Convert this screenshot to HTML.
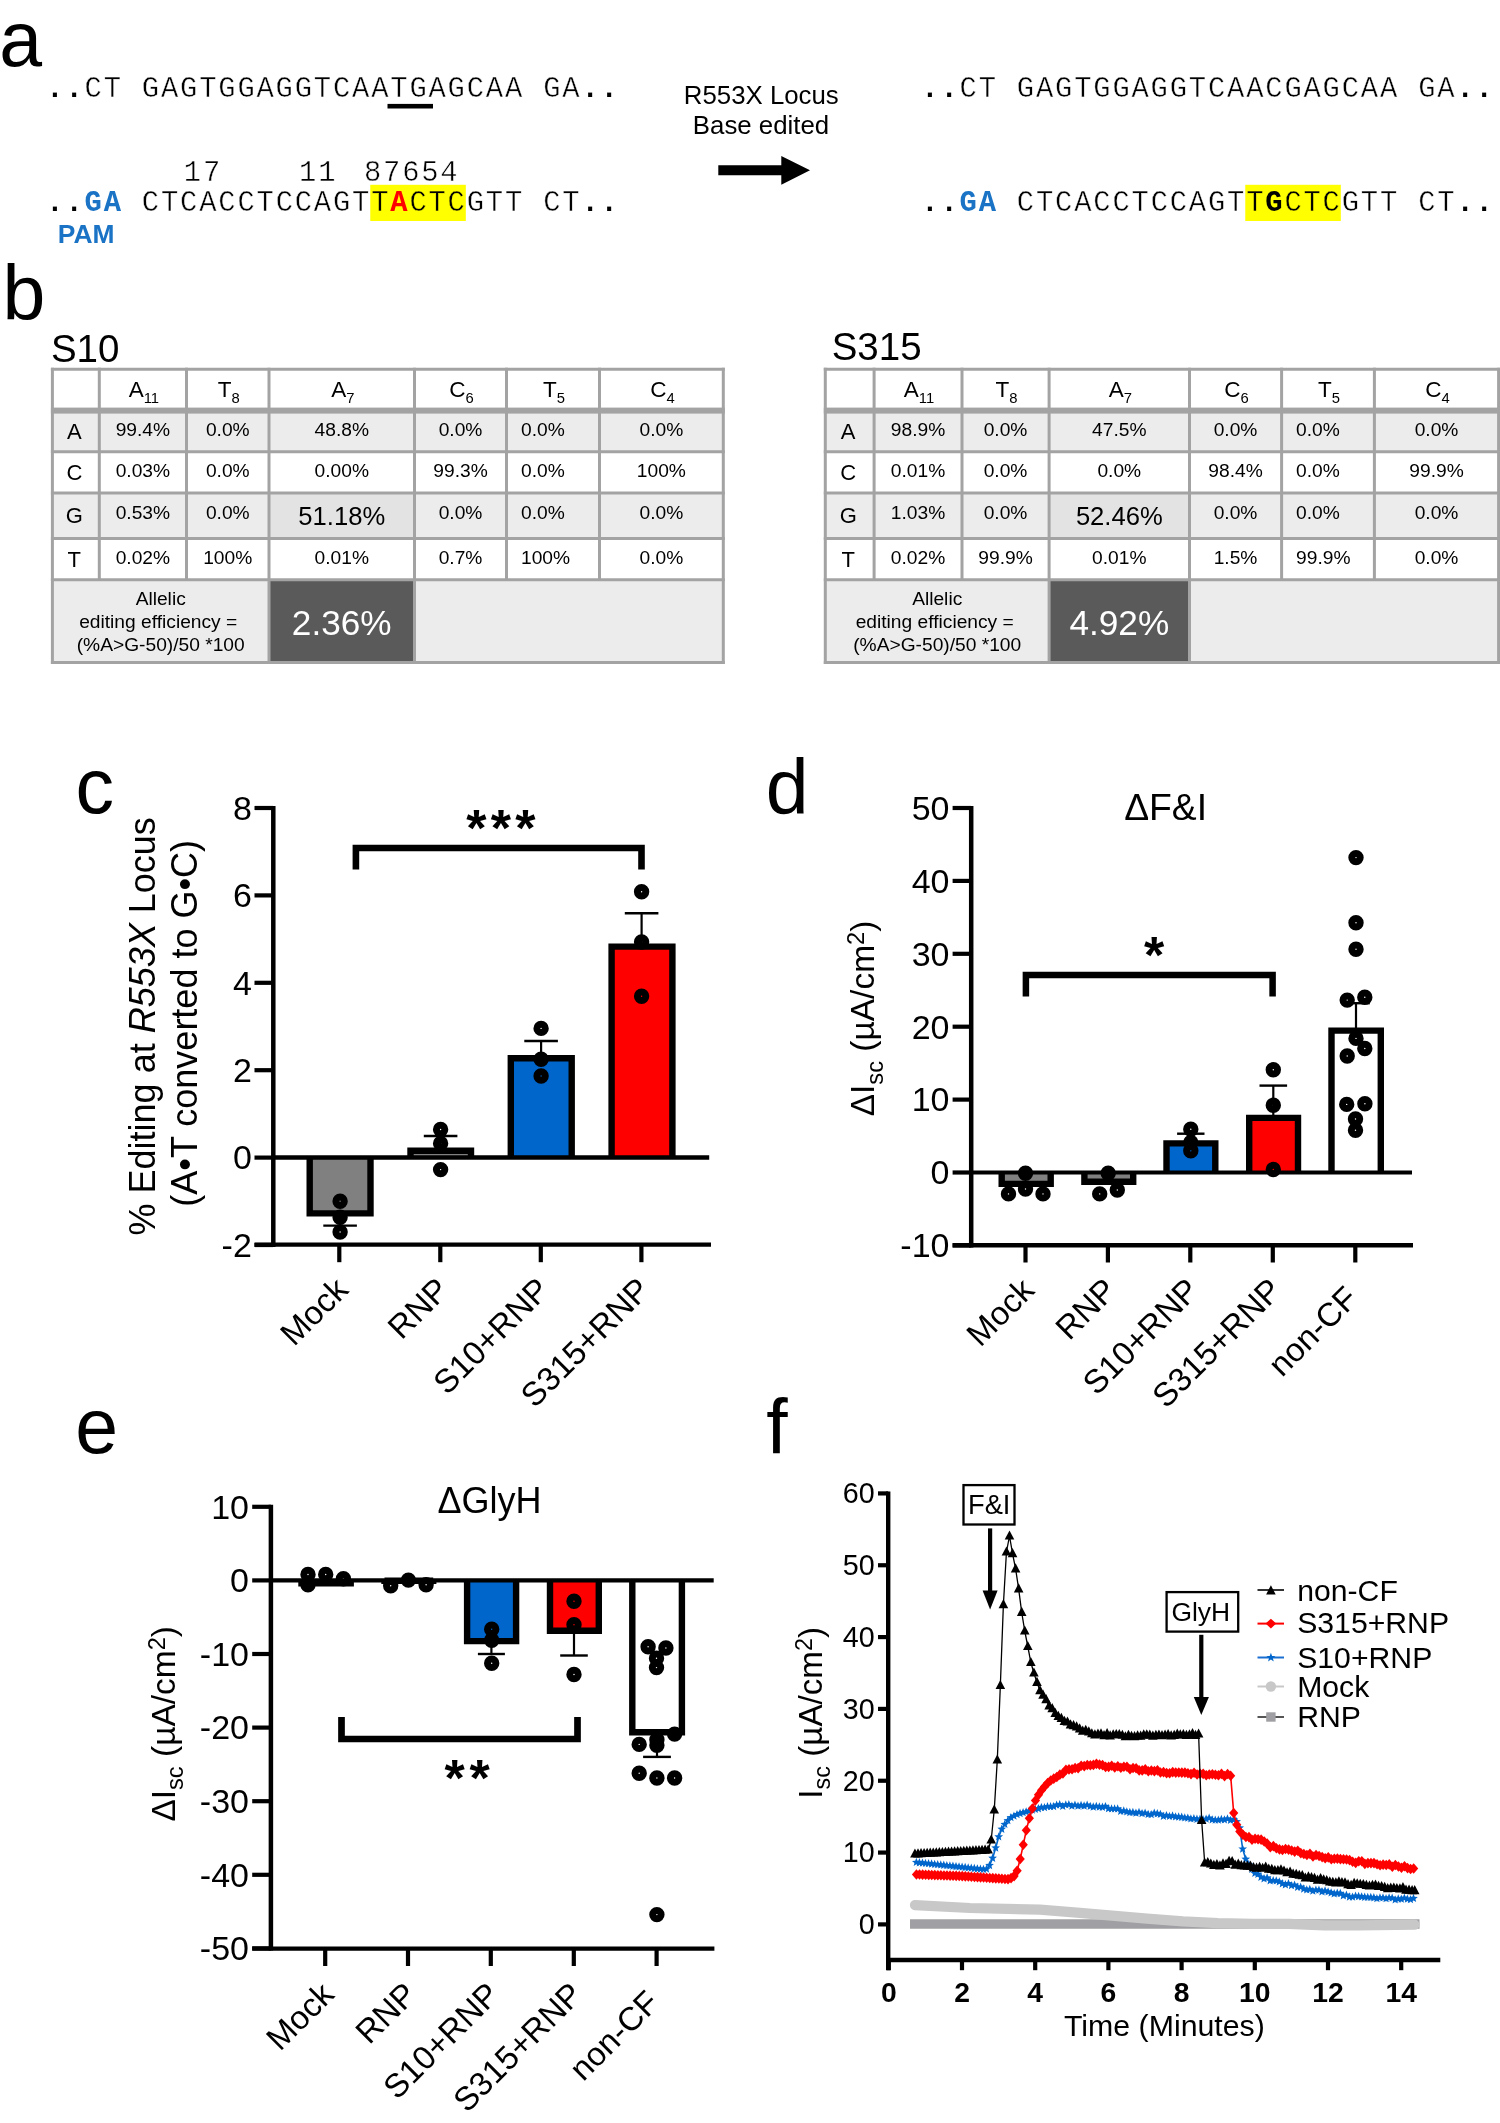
<!DOCTYPE html><html><head><meta charset="utf-8"><title>Figure</title><style>
html,body{margin:0;padding:0;background:#fff;}
svg{display:block;will-change:transform;}
text{font-family:"Liberation Sans",sans-serif;}
.m{font-family:"Liberation Mono",monospace;}
</style></head><body>
<svg width="1500" height="2123" viewBox="0 0 1500 2123">
<rect width="1500" height="2123" fill="#fff"/>
<text x="-0.8" y="65.9" font-size="77">a</text>
<text x="2.4" y="320.3" font-size="77">b</text>
<text x="75.6" y="813" font-size="77">c</text>
<text x="765.8" y="814" font-size="77">d</text>
<text x="75.3" y="1453.3" font-size="77">e</text>
<text x="766.3" y="1453.5" font-size="77">f</text>
<style>.m{letter-spacing:1.83px;stroke:#fff;stroke-width:0.45px}.m .b{stroke:none}.m .y{stroke:#ffff00}</style>
<rect x="370.27" y="184.8" width="95.55" height="36.2" fill="#ffff00"/>
<rect x="1245.27" y="184.8" width="95.55" height="36.2" fill="#ffff00"/>
<text y="97" font-size="28.8" class="m" xml:space="preserve"><tspan x="46.31" class="b" font-weight="bold">..</tspan><tspan x="84.53">CT GAGTGGAGGTCAATGAGCAA GA</tspan><tspan x="581.39" class="b" font-weight="bold">..</tspan></text>
<rect x="387.5" y="103.9" width="45.5" height="4.6" fill="#000"/>
<text x="183.81" y="181" font-size="28.8" class="m" xml:space="preserve">17</text>
<text x="299.12" y="181" font-size="28.8" class="m" xml:space="preserve">11</text>
<text x="363.92" y="181" font-size="28.8" class="m" xml:space="preserve">87654</text>
<text y="210.6" font-size="28.8" class="m" xml:space="preserve"><tspan x="46.31" class="b" font-weight="bold">..</tspan><tspan x="84.53" class="b" fill="#1a73c5" font-weight="bold">GA</tspan><tspan x="141.86">CTCACCTCCAGT</tspan><tspan x="371.19" class="y">T</tspan><tspan x="390.3" class="b" fill="#ff0000" font-weight="bold">A</tspan><tspan x="409.4" class="y">CTC</tspan><tspan x="466.73">GTT CT</tspan><tspan x="581.39" class="b" font-weight="bold">..</tspan></text>
<text x="57.84" y="243" font-size="26.4" font-weight="bold" fill="#1a73c5">PAM</text>
<text y="97" font-size="28.8" class="m" xml:space="preserve"><tspan x="921.31" class="b" font-weight="bold">..</tspan><tspan x="959.53">CT GAGTGGAGGTCAACGAGCAA GA</tspan><tspan x="1456.39" class="b" font-weight="bold">..</tspan></text>
<text y="211" font-size="28.8" class="m" xml:space="preserve"><tspan x="921.31" class="b" font-weight="bold">..</tspan><tspan x="959.53" class="b" fill="#1a73c5" font-weight="bold">GA</tspan><tspan x="1016.86">CTCACCTCCAGT</tspan><tspan x="1246.18" class="y">T</tspan><tspan x="1265.3" class="b" font-weight="bold">G</tspan><tspan x="1284.4" class="y">CTC</tspan><tspan x="1341.73">GTT CT</tspan><tspan x="1456.39" class="b" font-weight="bold">..</tspan></text>
<text x="761.3" y="104" font-size="25.8" text-anchor="middle">R553X Locus</text>
<text x="761" y="134.3" font-size="25.8" text-anchor="middle">Base edited</text>
<path d="M718.3 165.3H781.3V156L810 170.3L781.3 184.7V175.3H718.3Z" fill="#000"/>
<rect x="52.4" y="369.2" width="670.9" height="293.4" fill="#fff"/>
<rect x="52.4" y="410" width="670.9" height="41.8" fill="#ececec"/>
<rect x="52.4" y="493.1" width="670.9" height="45.3" fill="#ececec"/>
<rect x="52.4" y="579.8" width="670.9" height="82.8" fill="#ececec"/>
<rect x="269" y="493.1" width="145.5" height="45.3" fill="#e3e3e3"/>
<rect x="269" y="579.8" width="145.5" height="82.8" fill="#5a5a5a"/>
<line x1="50.9" y1="369.2" x2="724.8" y2="369.2" stroke="#a3a3a3" stroke-width="3"/>
<rect x="50.9" y="407.6" width="673.9" height="6" fill="#a3a3a3"/>
<line x1="50.9" y1="451.8" x2="724.8" y2="451.8" stroke="#a3a3a3" stroke-width="3"/>
<line x1="50.9" y1="493.1" x2="724.8" y2="493.1" stroke="#a3a3a3" stroke-width="3"/>
<line x1="50.9" y1="538.4" x2="724.8" y2="538.4" stroke="#a3a3a3" stroke-width="3"/>
<line x1="50.9" y1="579.8" x2="724.8" y2="579.8" stroke="#a3a3a3" stroke-width="3"/>
<line x1="50.9" y1="662.6" x2="724.8" y2="662.6" stroke="#a3a3a3" stroke-width="3"/>
<line x1="52.4" y1="367.7" x2="52.4" y2="664.1" stroke="#a3a3a3" stroke-width="3"/>
<line x1="99.3" y1="367.7" x2="99.3" y2="579.8" stroke="#a3a3a3" stroke-width="3"/>
<line x1="186.5" y1="367.7" x2="186.5" y2="579.8" stroke="#a3a3a3" stroke-width="3"/>
<line x1="269" y1="367.7" x2="269" y2="664.1" stroke="#a3a3a3" stroke-width="3"/>
<line x1="414.5" y1="367.7" x2="414.5" y2="664.1" stroke="#a3a3a3" stroke-width="3"/>
<line x1="506.5" y1="367.7" x2="506.5" y2="579.8" stroke="#a3a3a3" stroke-width="3"/>
<line x1="599.5" y1="367.7" x2="599.5" y2="579.8" stroke="#a3a3a3" stroke-width="3"/>
<line x1="723.3" y1="367.7" x2="723.3" y2="664.1" stroke="#a3a3a3" stroke-width="3"/>
<text x="50.95" y="361.8" font-size="38.5">S10</text>
<text x="143.9" y="397.4" font-size="22.5" text-anchor="middle">A<tspan font-size="14.8" dy="5.8">11</tspan></text>
<text x="228.75" y="397.4" font-size="22.5" text-anchor="middle">T<tspan font-size="14.8" dy="5.8">8</tspan></text>
<text x="342.75" y="397.4" font-size="22.5" text-anchor="middle">A<tspan font-size="14.8" dy="5.8">7</tspan></text>
<text x="461.5" y="397.4" font-size="22.5" text-anchor="middle">C<tspan font-size="14.8" dy="5.8">6</tspan></text>
<text x="554" y="397.4" font-size="22.5" text-anchor="middle">T<tspan font-size="14.8" dy="5.8">5</tspan></text>
<text x="662.4" y="397.4" font-size="22.5" text-anchor="middle">C<tspan font-size="14.8" dy="5.8">4</tspan></text>
<text x="74.35" y="438.8" font-size="22" text-anchor="middle">A</text>
<text x="74.35" y="480" font-size="22" text-anchor="middle">C</text>
<text x="74.35" y="522.7" font-size="22" text-anchor="middle">G</text>
<text x="74.35" y="566.7" font-size="22" text-anchor="middle">T</text>
<text x="142.9" y="435.8" font-size="19.2" text-anchor="middle">99.4%</text>
<text x="227.75" y="435.8" font-size="19.2" text-anchor="middle">0.0%</text>
<text x="341.75" y="435.8" font-size="19.2" text-anchor="middle">48.8%</text>
<text x="460.5" y="435.8" font-size="19.2" text-anchor="middle">0.0%</text>
<text x="521" y="435.8" font-size="19.2">0.0%</text>
<text x="661.4" y="435.8" font-size="19.2" text-anchor="middle">0.0%</text>
<text x="142.9" y="477" font-size="19.2" text-anchor="middle">0.03%</text>
<text x="227.75" y="477" font-size="19.2" text-anchor="middle">0.0%</text>
<text x="341.75" y="477" font-size="19.2" text-anchor="middle">0.00%</text>
<text x="460.5" y="477" font-size="19.2" text-anchor="middle">99.3%</text>
<text x="521" y="477" font-size="19.2">0.0%</text>
<text x="661.4" y="477" font-size="19.2" text-anchor="middle">100%</text>
<text x="142.9" y="519.1" font-size="19.2" text-anchor="middle">0.53%</text>
<text x="227.75" y="519.1" font-size="19.2" text-anchor="middle">0.0%</text>
<text x="341.75" y="524.6" font-size="25.6" text-anchor="middle">51.18%</text>
<text x="460.5" y="519.1" font-size="19.2" text-anchor="middle">0.0%</text>
<text x="521" y="519.1" font-size="19.2">0.0%</text>
<text x="661.4" y="519.1" font-size="19.2" text-anchor="middle">0.0%</text>
<text x="142.9" y="563.8" font-size="19.2" text-anchor="middle">0.02%</text>
<text x="227.75" y="563.8" font-size="19.2" text-anchor="middle">100%</text>
<text x="341.75" y="563.8" font-size="19.2" text-anchor="middle">0.01%</text>
<text x="460.5" y="563.8" font-size="19.2" text-anchor="middle">0.7%</text>
<text x="521" y="563.8" font-size="19.2">100%</text>
<text x="661.4" y="563.8" font-size="19.2" text-anchor="middle">0.0%</text>
<text x="160.7" y="605.4" font-size="19.2" text-anchor="middle">Allelic</text>
<text x="158.2" y="628.2" font-size="19.2" text-anchor="middle">editing efficiency =</text>
<text x="160.7" y="651" font-size="19.2" text-anchor="middle">(%A&gt;G-50)/50 *100</text>
<text x="341.75" y="634.5" font-size="35.2" text-anchor="middle" fill="#fff">2.36%</text>
<rect x="825.3" y="369.2" width="673.3" height="293.4" fill="#fff"/>
<rect x="825.3" y="410" width="673.3" height="41.8" fill="#ececec"/>
<rect x="825.3" y="493.1" width="673.3" height="45.3" fill="#ececec"/>
<rect x="825.3" y="579.8" width="673.3" height="82.8" fill="#ececec"/>
<rect x="1049.1" y="493.1" width="140.4" height="45.3" fill="#e3e3e3"/>
<rect x="1049.1" y="579.8" width="140.4" height="82.8" fill="#5a5a5a"/>
<line x1="823.8" y1="369.2" x2="1500.1" y2="369.2" stroke="#a3a3a3" stroke-width="3"/>
<rect x="823.8" y="407.6" width="676.3" height="6" fill="#a3a3a3"/>
<line x1="823.8" y1="451.8" x2="1500.1" y2="451.8" stroke="#a3a3a3" stroke-width="3"/>
<line x1="823.8" y1="493.1" x2="1500.1" y2="493.1" stroke="#a3a3a3" stroke-width="3"/>
<line x1="823.8" y1="538.4" x2="1500.1" y2="538.4" stroke="#a3a3a3" stroke-width="3"/>
<line x1="823.8" y1="579.8" x2="1500.1" y2="579.8" stroke="#a3a3a3" stroke-width="3"/>
<line x1="823.8" y1="662.6" x2="1500.1" y2="662.6" stroke="#a3a3a3" stroke-width="3"/>
<line x1="825.3" y1="367.7" x2="825.3" y2="664.1" stroke="#a3a3a3" stroke-width="3"/>
<line x1="874.1" y1="367.7" x2="874.1" y2="579.8" stroke="#a3a3a3" stroke-width="3"/>
<line x1="962" y1="367.7" x2="962" y2="579.8" stroke="#a3a3a3" stroke-width="3"/>
<line x1="1049.1" y1="367.7" x2="1049.1" y2="664.1" stroke="#a3a3a3" stroke-width="3"/>
<line x1="1189.5" y1="367.7" x2="1189.5" y2="664.1" stroke="#a3a3a3" stroke-width="3"/>
<line x1="1281.6" y1="367.7" x2="1281.6" y2="579.8" stroke="#a3a3a3" stroke-width="3"/>
<line x1="1374.4" y1="367.7" x2="1374.4" y2="579.8" stroke="#a3a3a3" stroke-width="3"/>
<line x1="1498.6" y1="367.7" x2="1498.6" y2="664.1" stroke="#a3a3a3" stroke-width="3"/>
<text x="831.65" y="359.5" font-size="38.5">S315</text>
<text x="919.05" y="397.4" font-size="22.5" text-anchor="middle">A<tspan font-size="14.8" dy="5.8">11</tspan></text>
<text x="1006.55" y="397.4" font-size="22.5" text-anchor="middle">T<tspan font-size="14.8" dy="5.8">8</tspan></text>
<text x="1120.3" y="397.4" font-size="22.5" text-anchor="middle">A<tspan font-size="14.8" dy="5.8">7</tspan></text>
<text x="1236.55" y="397.4" font-size="22.5" text-anchor="middle">C<tspan font-size="14.8" dy="5.8">6</tspan></text>
<text x="1329" y="397.4" font-size="22.5" text-anchor="middle">T<tspan font-size="14.8" dy="5.8">5</tspan></text>
<text x="1437.5" y="397.4" font-size="22.5" text-anchor="middle">C<tspan font-size="14.8" dy="5.8">4</tspan></text>
<text x="848.2" y="438.8" font-size="22" text-anchor="middle">A</text>
<text x="848.2" y="480" font-size="22" text-anchor="middle">C</text>
<text x="848.2" y="522.7" font-size="22" text-anchor="middle">G</text>
<text x="848.2" y="566.7" font-size="22" text-anchor="middle">T</text>
<text x="918.05" y="435.8" font-size="19.2" text-anchor="middle">98.9%</text>
<text x="1005.55" y="435.8" font-size="19.2" text-anchor="middle">0.0%</text>
<text x="1119.3" y="435.8" font-size="19.2" text-anchor="middle">47.5%</text>
<text x="1235.55" y="435.8" font-size="19.2" text-anchor="middle">0.0%</text>
<text x="1296.1" y="435.8" font-size="19.2">0.0%</text>
<text x="1436.5" y="435.8" font-size="19.2" text-anchor="middle">0.0%</text>
<text x="918.05" y="477" font-size="19.2" text-anchor="middle">0.01%</text>
<text x="1005.55" y="477" font-size="19.2" text-anchor="middle">0.0%</text>
<text x="1119.3" y="477" font-size="19.2" text-anchor="middle">0.0%</text>
<text x="1235.55" y="477" font-size="19.2" text-anchor="middle">98.4%</text>
<text x="1296.1" y="477" font-size="19.2">0.0%</text>
<text x="1436.5" y="477" font-size="19.2" text-anchor="middle">99.9%</text>
<text x="918.05" y="519.1" font-size="19.2" text-anchor="middle">1.03%</text>
<text x="1005.55" y="519.1" font-size="19.2" text-anchor="middle">0.0%</text>
<text x="1119.3" y="524.6" font-size="25.6" text-anchor="middle">52.46%</text>
<text x="1235.55" y="519.1" font-size="19.2" text-anchor="middle">0.0%</text>
<text x="1296.1" y="519.1" font-size="19.2">0.0%</text>
<text x="1436.5" y="519.1" font-size="19.2" text-anchor="middle">0.0%</text>
<text x="918.05" y="563.8" font-size="19.2" text-anchor="middle">0.02%</text>
<text x="1005.55" y="563.8" font-size="19.2" text-anchor="middle">99.9%</text>
<text x="1119.3" y="563.8" font-size="19.2" text-anchor="middle">0.01%</text>
<text x="1235.55" y="563.8" font-size="19.2" text-anchor="middle">1.5%</text>
<text x="1296.1" y="563.8" font-size="19.2">99.9%</text>
<text x="1436.5" y="563.8" font-size="19.2" text-anchor="middle">0.0%</text>
<text x="937.2" y="605.4" font-size="19.2" text-anchor="middle">Allelic</text>
<text x="934.7" y="628.2" font-size="19.2" text-anchor="middle">editing efficiency =</text>
<text x="937.2" y="651" font-size="19.2" text-anchor="middle">(%A&gt;G-50)/50 *100</text>
<text x="1119.3" y="634.5" font-size="35.2" text-anchor="middle" fill="#fff">4.92%</text>
<line x1="273.3" y1="806" x2="273.3" y2="1247" stroke="#000" stroke-width="4.5"/>
<line x1="254.5" y1="808" x2="273.3" y2="808" stroke="#000" stroke-width="4.2"/>
<text x="251.8" y="819.8" font-size="34" text-anchor="end">8</text>
<line x1="254.5" y1="895.4" x2="273.3" y2="895.4" stroke="#000" stroke-width="4.2"/>
<text x="251.8" y="907.2" font-size="34" text-anchor="end">6</text>
<line x1="254.5" y1="982.8" x2="273.3" y2="982.8" stroke="#000" stroke-width="4.2"/>
<text x="251.8" y="994.6" font-size="34" text-anchor="end">4</text>
<line x1="254.5" y1="1070.2" x2="273.3" y2="1070.2" stroke="#000" stroke-width="4.2"/>
<text x="251.8" y="1082" font-size="34" text-anchor="end">2</text>
<line x1="254.5" y1="1157.6" x2="273.3" y2="1157.6" stroke="#000" stroke-width="4.2"/>
<text x="251.8" y="1169.4" font-size="34" text-anchor="end">0</text>
<line x1="254.5" y1="1245" x2="273.3" y2="1245" stroke="#000" stroke-width="4.2"/>
<text x="251.8" y="1256.8" font-size="34" text-anchor="end">-2</text>
<line x1="254.5" y1="1244.6" x2="711" y2="1244.6" stroke="#000" stroke-width="4.4"/>
<line x1="339.3" y1="1244.6" x2="339.3" y2="1262.2" stroke="#000" stroke-width="4.2"/>
<line x1="440.3" y1="1244.6" x2="440.3" y2="1262.2" stroke="#000" stroke-width="4.2"/>
<line x1="540.8" y1="1244.6" x2="540.8" y2="1262.2" stroke="#000" stroke-width="4.2"/>
<line x1="641.4" y1="1244.6" x2="641.4" y2="1262.2" stroke="#000" stroke-width="4.2"/>
<rect x="307.5" y="1157.6" width="65.2" height="58" fill="#808080"/>
<path d="M309.7 1157.6V1213.4H370.5V1157.6" fill="none" stroke="#000" stroke-width="6.4" stroke-linejoin="miter"/>
<rect x="408.3" y="1148.6" width="64.9" height="9" fill="#808080"/>
<path d="M410.5 1157.6V1150.8H471V1157.6" fill="none" stroke="#000" stroke-width="6.4" stroke-linejoin="miter"/>
<rect x="508.6" y="1056.1" width="65.3" height="101.5" fill="#0066cc"/>
<path d="M510.8 1157.6V1058.3H571.7V1157.6" fill="none" stroke="#000" stroke-width="6.4" stroke-linejoin="miter"/>
<rect x="609.4" y="944.4" width="65.2" height="213.2" fill="#ff0000"/>
<path d="M611.6 1157.6V946.6H672.4V1157.6" fill="none" stroke="#000" stroke-width="6.4" stroke-linejoin="miter"/>
<line x1="273.3" y1="1157.6" x2="709.2" y2="1157.6" stroke="#000" stroke-width="4.5"/>
<line x1="340.1" y1="1213.5" x2="340.1" y2="1225.6" stroke="#000" stroke-width="2.2"/>
<line x1="323.3" y1="1225.6" x2="356.9" y2="1225.6" stroke="#000" stroke-width="2.4"/>
<line x1="440.6" y1="1150.6" x2="440.6" y2="1136" stroke="#000" stroke-width="2.2"/>
<line x1="423.8" y1="1136" x2="457.4" y2="1136" stroke="#000" stroke-width="2.4"/>
<line x1="541.1" y1="1058.6" x2="541.1" y2="1041" stroke="#000" stroke-width="2.2"/>
<line x1="524.3" y1="1041" x2="557.9" y2="1041" stroke="#000" stroke-width="2.4"/>
<line x1="641.6" y1="946.4" x2="641.6" y2="913.2" stroke="#000" stroke-width="2.2"/>
<line x1="624.8" y1="913.2" x2="658.4" y2="913.2" stroke="#000" stroke-width="2.4"/>
<circle cx="340.1" cy="1201.3" r="4.2" fill="none" stroke="#000" stroke-width="7"/>
<circle cx="340.1" cy="1217.2" r="4.2" fill="none" stroke="#000" stroke-width="7"/>
<circle cx="340.1" cy="1232" r="4.2" fill="none" stroke="#000" stroke-width="7"/>
<circle cx="440.6" cy="1129.5" r="4.2" fill="none" stroke="#000" stroke-width="7"/>
<circle cx="440.6" cy="1143.5" r="4.2" fill="none" stroke="#000" stroke-width="7"/>
<circle cx="440.6" cy="1169.6" r="4.2" fill="none" stroke="#000" stroke-width="7"/>
<circle cx="541.1" cy="1028.4" r="4.2" fill="none" stroke="#000" stroke-width="7"/>
<circle cx="541.1" cy="1059.2" r="4.2" fill="none" stroke="#000" stroke-width="7"/>
<circle cx="541.1" cy="1076" r="4.2" fill="none" stroke="#000" stroke-width="7"/>
<circle cx="641.6" cy="891.7" r="4.2" fill="none" stroke="#000" stroke-width="7"/>
<circle cx="641.6" cy="942" r="4.2" fill="none" stroke="#000" stroke-width="7"/>
<circle cx="641.6" cy="996.3" r="4.2" fill="none" stroke="#000" stroke-width="7"/>
<path d="M355.9 869.5V848H641.5V869.5" fill="none" stroke="#000" stroke-width="6.6"/>
<text x="476.4" y="845.5" font-size="52" text-anchor="middle" font-weight="bold">*</text>
<text x="500.9" y="845.5" font-size="52" text-anchor="middle" font-weight="bold">*</text>
<text x="525.4" y="845.5" font-size="52" text-anchor="middle" font-weight="bold">*</text>
<text transform="translate(349.8 1291.6) rotate(-45)" font-size="32.98" text-anchor="end">Mock</text>
<text transform="translate(450.8 1291.6) rotate(-45)" font-size="32.98" text-anchor="end">RNP</text>
<text transform="translate(551.3 1291.6) rotate(-45)" font-size="32.98" text-anchor="end">S10+RNP</text>
<text transform="translate(651.9 1291.6) rotate(-45)" font-size="32.98" text-anchor="end">S315+RNP</text>
<text transform="translate(154.5 1026.3) rotate(-90)" font-size="36" text-anchor="middle">% Editing at <tspan font-style="italic">R553X</tspan> Locus</text>
<text transform="translate(197 1023.3) rotate(-90)" font-size="36" text-anchor="middle">(A•T converted to G•C)</text>
<line x1="971.2" y1="806" x2="971.2" y2="1247.4" stroke="#000" stroke-width="4.5"/>
<line x1="952.6" y1="808" x2="971.2" y2="808" stroke="#000" stroke-width="4.2"/>
<text x="949.5" y="819.8" font-size="34" text-anchor="end">50</text>
<line x1="952.6" y1="880.9" x2="971.2" y2="880.9" stroke="#000" stroke-width="4.2"/>
<text x="949.5" y="892.7" font-size="34" text-anchor="end">40</text>
<line x1="952.6" y1="953.8" x2="971.2" y2="953.8" stroke="#000" stroke-width="4.2"/>
<text x="949.5" y="965.6" font-size="34" text-anchor="end">30</text>
<line x1="952.6" y1="1026.7" x2="971.2" y2="1026.7" stroke="#000" stroke-width="4.2"/>
<text x="949.5" y="1038.5" font-size="34" text-anchor="end">20</text>
<line x1="952.6" y1="1099.6" x2="971.2" y2="1099.6" stroke="#000" stroke-width="4.2"/>
<text x="949.5" y="1111.4" font-size="34" text-anchor="end">10</text>
<line x1="952.6" y1="1172.5" x2="971.2" y2="1172.5" stroke="#000" stroke-width="4.2"/>
<text x="949.5" y="1184.3" font-size="34" text-anchor="end">0</text>
<line x1="952.6" y1="1245.4" x2="971.2" y2="1245.4" stroke="#000" stroke-width="4.2"/>
<text x="949.5" y="1257.2" font-size="34" text-anchor="end">-10</text>
<line x1="952.6" y1="1245.2" x2="1413" y2="1245.2" stroke="#000" stroke-width="4.4"/>
<line x1="1025.5" y1="1245.2" x2="1025.5" y2="1262.5" stroke="#000" stroke-width="4.2"/>
<line x1="1107.9" y1="1245.2" x2="1107.9" y2="1262.5" stroke="#000" stroke-width="4.2"/>
<line x1="1190.3" y1="1245.2" x2="1190.3" y2="1262.5" stroke="#000" stroke-width="4.2"/>
<line x1="1272.8" y1="1245.2" x2="1272.8" y2="1262.5" stroke="#000" stroke-width="4.2"/>
<line x1="1355.3" y1="1245.2" x2="1355.3" y2="1262.5" stroke="#000" stroke-width="4.2"/>
<rect x="999.5" y="1172.5" width="53.4" height="13.6" fill="#808080"/>
<path d="M1001.7 1172.5V1183.9H1050.7V1172.5" fill="none" stroke="#000" stroke-width="6.4" stroke-linejoin="miter"/>
<rect x="1082.2" y="1172.5" width="53.2" height="11.5" fill="#808080"/>
<path d="M1084.4 1172.5V1181.8H1133.2V1172.5" fill="none" stroke="#000" stroke-width="6.4" stroke-linejoin="miter"/>
<rect x="1164.3" y="1141.2" width="53.2" height="31.3" fill="#0066cc"/>
<path d="M1166.5 1172.5V1143.4H1215.3V1172.5" fill="none" stroke="#000" stroke-width="6.4" stroke-linejoin="miter"/>
<rect x="1247" y="1115.7" width="53.2" height="56.8" fill="#ff0000"/>
<path d="M1249.2 1172.5V1117.9H1298V1172.5" fill="none" stroke="#000" stroke-width="6.4" stroke-linejoin="miter"/>
<rect x="1329.3" y="1028.4" width="53.7" height="144.1" fill="#ffffff"/>
<path d="M1331.5 1172.5V1030.6H1380.8V1172.5" fill="none" stroke="#000" stroke-width="6.4" stroke-linejoin="miter"/>
<line x1="971.2" y1="1172.5" x2="1412" y2="1172.5" stroke="#000" stroke-width="4.2"/>
<line x1="1190.8" y1="1143.2" x2="1190.8" y2="1133.7" stroke="#000" stroke-width="2.2"/>
<line x1="1177.1" y1="1133.7" x2="1204.5" y2="1133.7" stroke="#000" stroke-width="2.4"/>
<line x1="1273.3" y1="1117.7" x2="1273.3" y2="1085.6" stroke="#000" stroke-width="2.2"/>
<line x1="1259.5" y1="1085.6" x2="1287.1" y2="1085.6" stroke="#000" stroke-width="2.4"/>
<line x1="1356" y1="1030.4" x2="1356" y2="1003.2" stroke="#000" stroke-width="2.2"/>
<line x1="1342.2" y1="1003.2" x2="1369.8" y2="1003.2" stroke="#000" stroke-width="2.4"/>
<circle cx="1025.5" cy="1173.3" r="4.2" fill="none" stroke="#000" stroke-width="7"/>
<circle cx="1025.5" cy="1189" r="4.2" fill="none" stroke="#000" stroke-width="7"/>
<circle cx="1008.5" cy="1193.9" r="4.2" fill="none" stroke="#000" stroke-width="7"/>
<circle cx="1043" cy="1193.9" r="4.2" fill="none" stroke="#000" stroke-width="7"/>
<circle cx="1108.2" cy="1173.3" r="4.2" fill="none" stroke="#000" stroke-width="7"/>
<circle cx="1099.7" cy="1193.9" r="4.2" fill="none" stroke="#000" stroke-width="7"/>
<circle cx="1117.3" cy="1190" r="4.2" fill="none" stroke="#000" stroke-width="7"/>
<circle cx="1190.8" cy="1129.3" r="4.2" fill="none" stroke="#000" stroke-width="7"/>
<circle cx="1190.8" cy="1142.5" r="4.2" fill="none" stroke="#000" stroke-width="7"/>
<circle cx="1190.8" cy="1150.7" r="4.2" fill="none" stroke="#000" stroke-width="7"/>
<circle cx="1273.3" cy="1069.8" r="4.2" fill="none" stroke="#000" stroke-width="7"/>
<circle cx="1273.3" cy="1105.3" r="4.2" fill="none" stroke="#000" stroke-width="7"/>
<circle cx="1273.3" cy="1169.5" r="4.2" fill="none" stroke="#000" stroke-width="7"/>
<circle cx="1356" cy="857.6" r="4.2" fill="none" stroke="#000" stroke-width="7"/>
<circle cx="1356" cy="922.7" r="4.2" fill="none" stroke="#000" stroke-width="7"/>
<circle cx="1356" cy="949.3" r="4.2" fill="none" stroke="#000" stroke-width="7"/>
<circle cx="1347.2" cy="1000.1" r="4.2" fill="none" stroke="#000" stroke-width="7"/>
<circle cx="1364.8" cy="997.3" r="4.2" fill="none" stroke="#000" stroke-width="7"/>
<circle cx="1356" cy="1038.4" r="4.2" fill="none" stroke="#000" stroke-width="7"/>
<circle cx="1364.8" cy="1048.5" r="4.2" fill="none" stroke="#000" stroke-width="7"/>
<circle cx="1347.2" cy="1056" r="4.2" fill="none" stroke="#000" stroke-width="7"/>
<circle cx="1346.7" cy="1104.4" r="4.2" fill="none" stroke="#000" stroke-width="7"/>
<circle cx="1364.9" cy="1103.8" r="4.2" fill="none" stroke="#000" stroke-width="7"/>
<circle cx="1355.5" cy="1119" r="4.2" fill="none" stroke="#000" stroke-width="7"/>
<circle cx="1355.5" cy="1130.2" r="4.2" fill="none" stroke="#000" stroke-width="7"/>
<path d="M1025.9 996.5V975H1272.6V996.5" fill="none" stroke="#000" stroke-width="6.5"/>
<text x="1154.2" y="972.5" font-size="52" text-anchor="middle" font-weight="bold">*</text>
<text x="1165.6" y="819.8" font-size="37.3" text-anchor="middle">ΔF&amp;I</text>
<text transform="translate(1036 1292.2) rotate(-45)" font-size="32.98" text-anchor="end">Mock</text>
<text transform="translate(1118.4 1292.2) rotate(-45)" font-size="32.98" text-anchor="end">RNP</text>
<text transform="translate(1200.8 1292.2) rotate(-45)" font-size="32.98" text-anchor="end">S10+RNP</text>
<text transform="translate(1283.3 1292.2) rotate(-45)" font-size="32.98" text-anchor="end">S315+RNP</text>
<text transform="translate(1359.8 1300.2) rotate(-45)" font-size="32.98" text-anchor="end">non-CF</text>
<text transform="translate(874.3 1018.5) rotate(-90)" font-size="33.5" text-anchor="middle">ΔI<tspan font-size="23.6" dy="8.4">sc</tspan><tspan dy="-8.4"> (µA/cm</tspan><tspan font-size="23.6" dy="-9.9">2</tspan><tspan dy="9.9">)</tspan></text>
<line x1="270.9" y1="1504.8" x2="270.9" y2="1950.4" stroke="#000" stroke-width="4.5"/>
<line x1="252.2" y1="1506.8" x2="270.9" y2="1506.8" stroke="#000" stroke-width="4.2"/>
<text x="249" y="1518.6" font-size="34" text-anchor="end">10</text>
<line x1="252.2" y1="1580.4" x2="270.9" y2="1580.4" stroke="#000" stroke-width="4.2"/>
<text x="249" y="1592.2" font-size="34" text-anchor="end">0</text>
<line x1="252.2" y1="1654" x2="270.9" y2="1654" stroke="#000" stroke-width="4.2"/>
<text x="249" y="1665.8" font-size="34" text-anchor="end">-10</text>
<line x1="252.2" y1="1727.6" x2="270.9" y2="1727.6" stroke="#000" stroke-width="4.2"/>
<text x="249" y="1739.4" font-size="34" text-anchor="end">-20</text>
<line x1="252.2" y1="1801.2" x2="270.9" y2="1801.2" stroke="#000" stroke-width="4.2"/>
<text x="249" y="1813" font-size="34" text-anchor="end">-30</text>
<line x1="252.2" y1="1874.8" x2="270.9" y2="1874.8" stroke="#000" stroke-width="4.2"/>
<text x="249" y="1886.6" font-size="34" text-anchor="end">-40</text>
<line x1="252.2" y1="1948.4" x2="270.9" y2="1948.4" stroke="#000" stroke-width="4.2"/>
<text x="249" y="1960.2" font-size="34" text-anchor="end">-50</text>
<line x1="252.2" y1="1948.6" x2="714.4" y2="1948.6" stroke="#000" stroke-width="4.4"/>
<line x1="325.2" y1="1948.6" x2="325.2" y2="1966" stroke="#000" stroke-width="4.2"/>
<line x1="408" y1="1948.6" x2="408" y2="1966" stroke="#000" stroke-width="4.2"/>
<line x1="490.8" y1="1948.6" x2="490.8" y2="1966" stroke="#000" stroke-width="4.2"/>
<line x1="573.8" y1="1948.6" x2="573.8" y2="1966" stroke="#000" stroke-width="4.2"/>
<line x1="656.6" y1="1948.6" x2="656.6" y2="1966" stroke="#000" stroke-width="4.2"/>
<rect x="299.3" y="1580.4" width="53.6" height="5.1" fill="#808080"/>
<path d="M301.5 1580.4V1583.3H350.7V1580.4" fill="none" stroke="#000" stroke-width="6.4" stroke-linejoin="miter"/>
<rect x="382.3" y="1580.4" width="53.1" height="2.6" fill="#808080"/>
<path d="M384.5 1580.4V1580.8H433.2V1580.4" fill="none" stroke="#000" stroke-width="6.4" stroke-linejoin="miter"/>
<rect x="464.9" y="1580.4" width="53.4" height="62.9" fill="#0066cc"/>
<path d="M467.1 1580.4V1641.1H516.1V1580.4" fill="none" stroke="#000" stroke-width="6.4" stroke-linejoin="miter"/>
<rect x="547.8" y="1580.4" width="53.2" height="52.6" fill="#ff0000"/>
<path d="M550 1580.4V1630.8H598.8V1580.4" fill="none" stroke="#000" stroke-width="6.4" stroke-linejoin="miter"/>
<rect x="630.1" y="1580.4" width="54" height="154" fill="#ffffff"/>
<path d="M632.3 1580.4V1732.2H681.9V1580.4" fill="none" stroke="#000" stroke-width="6.4" stroke-linejoin="miter"/>
<line x1="270.9" y1="1580.4" x2="713.7" y2="1580.4" stroke="#000" stroke-width="4.4"/>
<line x1="491.4" y1="1641.3" x2="491.4" y2="1654" stroke="#000" stroke-width="2.2"/>
<line x1="477.9" y1="1654" x2="504.9" y2="1654" stroke="#000" stroke-width="2.4"/>
<line x1="574" y1="1631" x2="574" y2="1655.5" stroke="#000" stroke-width="2.2"/>
<line x1="560.2" y1="1655.5" x2="587.8" y2="1655.5" stroke="#000" stroke-width="2.4"/>
<line x1="657" y1="1732.4" x2="657" y2="1756.9" stroke="#000" stroke-width="2.2"/>
<line x1="643.1" y1="1756.9" x2="670.9" y2="1756.9" stroke="#000" stroke-width="2.4"/>
<circle cx="308" cy="1574.5" r="4.2" fill="none" stroke="#000" stroke-width="7"/>
<circle cx="308" cy="1584.8" r="4.2" fill="none" stroke="#000" stroke-width="7"/>
<circle cx="325.7" cy="1574.5" r="4.2" fill="none" stroke="#000" stroke-width="7"/>
<circle cx="343.4" cy="1578.8" r="4.2" fill="none" stroke="#000" stroke-width="7"/>
<circle cx="390.7" cy="1585.7" r="4.2" fill="none" stroke="#000" stroke-width="7"/>
<circle cx="408.4" cy="1580.1" r="4.2" fill="none" stroke="#000" stroke-width="7"/>
<circle cx="426.1" cy="1584.8" r="4.2" fill="none" stroke="#000" stroke-width="7"/>
<circle cx="491.7" cy="1629.3" r="4.2" fill="none" stroke="#000" stroke-width="7"/>
<circle cx="491.7" cy="1640.2" r="4.2" fill="none" stroke="#000" stroke-width="7"/>
<circle cx="491.7" cy="1663.3" r="4.2" fill="none" stroke="#000" stroke-width="7"/>
<circle cx="574" cy="1601.3" r="4.2" fill="none" stroke="#000" stroke-width="7"/>
<circle cx="574" cy="1624.7" r="4.2" fill="none" stroke="#000" stroke-width="7"/>
<circle cx="574" cy="1674.5" r="4.2" fill="none" stroke="#000" stroke-width="7"/>
<circle cx="648.1" cy="1646.7" r="4.2" fill="none" stroke="#000" stroke-width="7"/>
<circle cx="665.9" cy="1648" r="4.2" fill="none" stroke="#000" stroke-width="7"/>
<circle cx="656.5" cy="1658.3" r="4.2" fill="none" stroke="#000" stroke-width="7"/>
<circle cx="656.5" cy="1667.6" r="4.2" fill="none" stroke="#000" stroke-width="7"/>
<circle cx="639.2" cy="1744.4" r="4.2" fill="none" stroke="#000" stroke-width="7"/>
<circle cx="656.9" cy="1739.7" r="4.2" fill="none" stroke="#000" stroke-width="7"/>
<circle cx="656.9" cy="1745.3" r="4.2" fill="none" stroke="#000" stroke-width="7"/>
<circle cx="674.6" cy="1734.1" r="4.2" fill="none" stroke="#000" stroke-width="7"/>
<circle cx="639.2" cy="1773.3" r="4.2" fill="none" stroke="#000" stroke-width="7"/>
<circle cx="656.9" cy="1778" r="4.2" fill="none" stroke="#000" stroke-width="7"/>
<circle cx="674.6" cy="1778" r="4.2" fill="none" stroke="#000" stroke-width="7"/>
<circle cx="656.9" cy="1914.6" r="4.2" fill="none" stroke="#000" stroke-width="7"/>
<path d="M341.5 1717V1739H577.5V1717" fill="none" stroke="#000" stroke-width="6.7"/>
<text x="454.5" y="1795.5" font-size="52" text-anchor="middle" font-weight="bold">*</text>
<text x="479.5" y="1795.5" font-size="52" text-anchor="middle" font-weight="bold">*</text>
<text x="489.6" y="1513" font-size="36" text-anchor="middle">ΔGlyH</text>
<text transform="translate(335.7 1996.4) rotate(-45)" font-size="32.98" text-anchor="end">Mock</text>
<text transform="translate(418.5 1996.4) rotate(-45)" font-size="32.98" text-anchor="end">RNP</text>
<text transform="translate(501.3 1996.4) rotate(-45)" font-size="32.98" text-anchor="end">S10+RNP</text>
<text transform="translate(584.3 1996.4) rotate(-45)" font-size="32.98" text-anchor="end">S315+RNP</text>
<text transform="translate(661.1 2004.4) rotate(-45)" font-size="32.98" text-anchor="end">non-CF</text>
<text transform="translate(174.8 1723.8) rotate(-90)" font-size="33.5" text-anchor="middle">ΔI<tspan font-size="23.6" dy="8.4">sc</tspan><tspan dy="-8.4"> (µA/cm</tspan><tspan font-size="23.6" dy="-9.9">2</tspan><tspan dy="9.9">)</tspan></text>
<line x1="888.2" y1="1491.4" x2="888.2" y2="1970.2" stroke="#000" stroke-width="4.4"/>
<line x1="878" y1="1493.42" x2="888.2" y2="1493.42" stroke="#000" stroke-width="4.2"/>
<text x="874.6" y="1503.32" font-size="28.7" text-anchor="end">60</text>
<line x1="878" y1="1565.25" x2="888.2" y2="1565.25" stroke="#000" stroke-width="4.2"/>
<text x="874.6" y="1575.15" font-size="28.7" text-anchor="end">50</text>
<line x1="878" y1="1637.08" x2="888.2" y2="1637.08" stroke="#000" stroke-width="4.2"/>
<text x="874.6" y="1646.98" font-size="28.7" text-anchor="end">40</text>
<line x1="878" y1="1708.91" x2="888.2" y2="1708.91" stroke="#000" stroke-width="4.2"/>
<text x="874.6" y="1718.81" font-size="28.7" text-anchor="end">30</text>
<line x1="878" y1="1780.74" x2="888.2" y2="1780.74" stroke="#000" stroke-width="4.2"/>
<text x="874.6" y="1790.64" font-size="28.7" text-anchor="end">20</text>
<line x1="878" y1="1852.57" x2="888.2" y2="1852.57" stroke="#000" stroke-width="4.2"/>
<text x="874.6" y="1862.47" font-size="28.7" text-anchor="end">10</text>
<line x1="878" y1="1924.4" x2="888.2" y2="1924.4" stroke="#000" stroke-width="4.2"/>
<text x="874.6" y="1934.3" font-size="28.7" text-anchor="end">0</text>
<line x1="886" y1="1960" x2="1440.3" y2="1960" stroke="#000" stroke-width="4.4"/>
<line x1="888.8" y1="1960" x2="888.8" y2="1970.2" stroke="#000" stroke-width="4.2"/>
<text x="888.8" y="2002" font-size="28.3" text-anchor="middle" font-weight="bold">0</text>
<line x1="962" y1="1960" x2="962" y2="1970.2" stroke="#000" stroke-width="4.2"/>
<text x="962" y="2002" font-size="28.3" text-anchor="middle" font-weight="bold">2</text>
<line x1="1035.2" y1="1960" x2="1035.2" y2="1970.2" stroke="#000" stroke-width="4.2"/>
<text x="1035.2" y="2002" font-size="28.3" text-anchor="middle" font-weight="bold">4</text>
<line x1="1108.4" y1="1960" x2="1108.4" y2="1970.2" stroke="#000" stroke-width="4.2"/>
<text x="1108.4" y="2002" font-size="28.3" text-anchor="middle" font-weight="bold">6</text>
<line x1="1181.6" y1="1960" x2="1181.6" y2="1970.2" stroke="#000" stroke-width="4.2"/>
<text x="1181.6" y="2002" font-size="28.3" text-anchor="middle" font-weight="bold">8</text>
<line x1="1254.8" y1="1960" x2="1254.8" y2="1970.2" stroke="#000" stroke-width="4.2"/>
<text x="1254.8" y="2002" font-size="28.3" text-anchor="middle" font-weight="bold">10</text>
<line x1="1328" y1="1960" x2="1328" y2="1970.2" stroke="#000" stroke-width="4.2"/>
<text x="1328" y="2002" font-size="28.3" text-anchor="middle" font-weight="bold">12</text>
<line x1="1401.2" y1="1960" x2="1401.2" y2="1970.2" stroke="#000" stroke-width="4.2"/>
<text x="1401.2" y="2002" font-size="28.3" text-anchor="middle" font-weight="bold">14</text>
<text x="1164.4" y="2036" font-size="30.3" text-anchor="middle">Time (Minutes)</text>
<text transform="translate(821.6 1712.8) rotate(-90)" font-size="33.2" text-anchor="middle">I<tspan font-size="23.4" dy="8.3">sc</tspan><tspan dy="-8.3"> (µA/cm</tspan><tspan font-size="23.4" dy="-9.8">2</tspan><tspan dy="9.8">)</tspan></text>
<rect x="963.5" y="1485.1" width="51" height="39.4" fill="#fff" stroke="#000" stroke-width="2.3"/>
<text x="989.2" y="1513.6" font-size="27.3" text-anchor="middle">F&amp;I</text>
<rect x="988" y="1528.4" width="4.2" height="63" fill="#000"/>
<path d="M982.6 1590.5H997.6L990.1 1609.5Z" fill="#000"/>
<rect x="1166.6" y="1592.1" width="71.6" height="39.5" fill="#fff" stroke="#000" stroke-width="2.3"/>
<text x="1200.8" y="1621" font-size="26.4" text-anchor="middle">GlyH</text>
<rect x="1199.2" y="1634.8" width="4.2" height="63" fill="#000"/>
<path d="M1193.8 1697H1208.9L1201.3 1715Z" fill="#000"/>
<defs>
<path id="tri" d="M0 -5.6L4.8 3.6H-4.8Z" fill="#000"/>
<path id="dia" d="M0 -5.3L4.6 0L0 5.3L-4.6 0Z" fill="#ff0000"/>
<path id="ldia" d="M0 -4.8L5.3 0L0 4.8L-5.3 0Z" fill="#ff0000"/>
<path id="star" d="M0 -4.6L1.18 -1.62L4.37 -1.42L1.9 0.62L2.7 3.72L0 2L-2.7 3.72L-1.9 0.62L-4.37 -1.42L-1.18 -1.62Z" fill="#0066cc"/>
<path id="lstar" d="M0 -4.8L1.18 -1.62L4.57 -1.48L1.9 0.62L2.82 3.88L0 2L-2.82 3.88L-1.9 0.62L-4.57 -1.48L-1.18 -1.62Z" fill="#0066cc"/>
</defs>
<polyline points="910,1924 1419.5,1924" fill="none" stroke="#a0a0a4" stroke-width="9.6"/>
<polyline points="915,1905.1 970,1908 1040,1909.7 1077,1912.6 1112,1915.7 1147,1918.6 1183,1921.4 1218,1923.2 1253,1923.9 1289,1923.9 1324,1925.3 1359,1925.3 1414.5,1924.6" fill="none" stroke="#c8c8c8" stroke-width="10.2" stroke-linecap="round" stroke-linejoin="round"/>
<polyline points="916.35,1862.35 919.4,1862.66 922.45,1862.98 925.5,1863.3 928.55,1863.62 931.6,1863.94 934.65,1864.26 937.7,1864.58 940.75,1864.9 943.8,1865.22 946.85,1865.54 949.9,1865.86 952.95,1866.17 956,1866.49 959.05,1866.81 962.1,1867.13 965.15,1867.45 968.2,1867.77 971.25,1868.09 974.3,1868.41 977.35,1868.73 980.4,1869.05 983.45,1869.36 986.5,1869.04 989.55,1865.42 992.6,1858.2 995.65,1847.95 998.7,1836.77 1001.75,1829.2 1004.8,1824.32 1007.85,1820.58 1010.9,1817.55 1013.95,1816.03 1017,1814.5 1020.05,1813.44 1023.1,1812.6 1026.15,1811.76 1029.2,1810.91 1032.25,1810.07 1035.3,1809.28 1038.35,1808.67 1041.4,1807.49 1044.45,1807.56 1047.5,1806.57 1050.55,1806.64 1053.6,1806.48 1056.65,1805.04 1059.7,1804.72 1062.75,1806.33 1065.8,1804.85 1068.85,1804.58 1071.9,1806.12 1074.95,1805.12 1078,1806.08 1081.05,1805.45 1084.1,1805.96 1087.15,1805.04 1090.2,1806.26 1093.25,1806.93 1096.3,1806.33 1099.35,1806.96 1102.4,1807.22 1105.45,1806.49 1108.5,1808.63 1111.55,1808.87 1114.6,1808.84 1117.65,1808.86 1120.7,1811.3 1123.75,1810.94 1126.8,1811.79 1129.85,1812.44 1132.9,1812.38 1135.95,1813.14 1139,1812.28 1142.05,1813.48 1145.1,1813 1148.15,1814.38 1151.2,1814.55 1154.25,1813.2 1157.3,1813.67 1160.35,1814.23 1163.4,1816.26 1166.45,1815.48 1169.5,1816.29 1172.55,1815.96 1175.6,1816.8 1178.65,1816.91 1181.7,1817.19 1184.75,1817.85 1187.8,1817.99 1190.85,1818.84 1193.9,1818.5 1196.95,1819.19 1200,1819.17 1203.05,1819.62 1206.1,1819.06 1209.15,1818.09 1212.2,1819.74 1215.25,1820.08 1218.3,1820.05 1221.35,1819.42 1224.4,1819.84 1227.45,1818.84 1230.5,1820.31 1233.55,1819.68 1236.6,1821.68 1239.65,1827.98 1242.7,1849 1245.75,1859.17 1248.8,1864.36 1251.85,1869.26 1254.9,1873.37 1257.95,1874.22 1261,1877.18 1264.05,1878.7 1267.1,1877.93 1270.15,1880.7 1273.2,1880.6 1276.25,1880.79 1279.3,1881.87 1282.35,1883.68 1285.4,1884.67 1288.45,1883.61 1291.5,1885.59 1294.55,1885.02 1297.6,1887.19 1300.65,1887.02 1303.7,1888.92 1306.75,1889.83 1309.8,1889.47 1312.85,1891.06 1315.9,1890.04 1318.95,1890.02 1322,1891.67 1325.05,1890.91 1328.1,1891.78 1331.15,1892.73 1334.2,1893.68 1337.25,1893.17 1340.3,1893.42 1343.35,1895.73 1346.4,1895.01 1349.45,1896.92 1352.5,1897.02 1355.55,1896.06 1358.6,1896.43 1361.65,1896.74 1364.7,1897.2 1367.75,1897.28 1370.8,1897.38 1373.85,1897.7 1376.9,1898.58 1379.95,1897.81 1383,1897.83 1386.05,1898.65 1389.1,1897.77 1392.15,1898.09 1395.2,1899.76 1398.25,1898.94 1401.3,1899.15 1404.35,1898.07 1407.4,1899.06 1410.45,1899.52 1413.5,1898.39" fill="none" stroke="#0066cc" stroke-width="1.6" stroke-linejoin="round"/>
<use href="#star" x="916.35" y="1862.35"/>
<use href="#star" x="919.4" y="1862.66"/>
<use href="#star" x="922.45" y="1862.98"/>
<use href="#star" x="925.5" y="1863.3"/>
<use href="#star" x="928.55" y="1863.62"/>
<use href="#star" x="931.6" y="1863.94"/>
<use href="#star" x="934.65" y="1864.26"/>
<use href="#star" x="937.7" y="1864.58"/>
<use href="#star" x="940.75" y="1864.9"/>
<use href="#star" x="943.8" y="1865.22"/>
<use href="#star" x="946.85" y="1865.54"/>
<use href="#star" x="949.9" y="1865.86"/>
<use href="#star" x="952.95" y="1866.17"/>
<use href="#star" x="956" y="1866.49"/>
<use href="#star" x="959.05" y="1866.81"/>
<use href="#star" x="962.1" y="1867.13"/>
<use href="#star" x="965.15" y="1867.45"/>
<use href="#star" x="968.2" y="1867.77"/>
<use href="#star" x="971.25" y="1868.09"/>
<use href="#star" x="974.3" y="1868.41"/>
<use href="#star" x="977.35" y="1868.73"/>
<use href="#star" x="980.4" y="1869.05"/>
<use href="#star" x="983.45" y="1869.36"/>
<use href="#star" x="986.5" y="1869.04"/>
<use href="#star" x="989.55" y="1865.42"/>
<use href="#star" x="992.6" y="1858.2"/>
<use href="#star" x="995.65" y="1847.95"/>
<use href="#star" x="998.7" y="1836.77"/>
<use href="#star" x="1001.75" y="1829.2"/>
<use href="#star" x="1004.8" y="1824.32"/>
<use href="#star" x="1007.85" y="1820.58"/>
<use href="#star" x="1010.9" y="1817.55"/>
<use href="#star" x="1013.95" y="1816.03"/>
<use href="#star" x="1017" y="1814.5"/>
<use href="#star" x="1020.05" y="1813.44"/>
<use href="#star" x="1023.1" y="1812.6"/>
<use href="#star" x="1026.15" y="1811.76"/>
<use href="#star" x="1029.2" y="1810.91"/>
<use href="#star" x="1032.25" y="1810.07"/>
<use href="#star" x="1035.3" y="1809.28"/>
<use href="#star" x="1038.35" y="1808.67"/>
<use href="#star" x="1041.4" y="1807.49"/>
<use href="#star" x="1044.45" y="1807.56"/>
<use href="#star" x="1047.5" y="1806.57"/>
<use href="#star" x="1050.55" y="1806.64"/>
<use href="#star" x="1053.6" y="1806.48"/>
<use href="#star" x="1056.65" y="1805.04"/>
<use href="#star" x="1059.7" y="1804.72"/>
<use href="#star" x="1062.75" y="1806.33"/>
<use href="#star" x="1065.8" y="1804.85"/>
<use href="#star" x="1068.85" y="1804.58"/>
<use href="#star" x="1071.9" y="1806.12"/>
<use href="#star" x="1074.95" y="1805.12"/>
<use href="#star" x="1078" y="1806.08"/>
<use href="#star" x="1081.05" y="1805.45"/>
<use href="#star" x="1084.1" y="1805.96"/>
<use href="#star" x="1087.15" y="1805.04"/>
<use href="#star" x="1090.2" y="1806.26"/>
<use href="#star" x="1093.25" y="1806.93"/>
<use href="#star" x="1096.3" y="1806.33"/>
<use href="#star" x="1099.35" y="1806.96"/>
<use href="#star" x="1102.4" y="1807.22"/>
<use href="#star" x="1105.45" y="1806.49"/>
<use href="#star" x="1108.5" y="1808.63"/>
<use href="#star" x="1111.55" y="1808.87"/>
<use href="#star" x="1114.6" y="1808.84"/>
<use href="#star" x="1117.65" y="1808.86"/>
<use href="#star" x="1120.7" y="1811.3"/>
<use href="#star" x="1123.75" y="1810.94"/>
<use href="#star" x="1126.8" y="1811.79"/>
<use href="#star" x="1129.85" y="1812.44"/>
<use href="#star" x="1132.9" y="1812.38"/>
<use href="#star" x="1135.95" y="1813.14"/>
<use href="#star" x="1139" y="1812.28"/>
<use href="#star" x="1142.05" y="1813.48"/>
<use href="#star" x="1145.1" y="1813"/>
<use href="#star" x="1148.15" y="1814.38"/>
<use href="#star" x="1151.2" y="1814.55"/>
<use href="#star" x="1154.25" y="1813.2"/>
<use href="#star" x="1157.3" y="1813.67"/>
<use href="#star" x="1160.35" y="1814.23"/>
<use href="#star" x="1163.4" y="1816.26"/>
<use href="#star" x="1166.45" y="1815.48"/>
<use href="#star" x="1169.5" y="1816.29"/>
<use href="#star" x="1172.55" y="1815.96"/>
<use href="#star" x="1175.6" y="1816.8"/>
<use href="#star" x="1178.65" y="1816.91"/>
<use href="#star" x="1181.7" y="1817.19"/>
<use href="#star" x="1184.75" y="1817.85"/>
<use href="#star" x="1187.8" y="1817.99"/>
<use href="#star" x="1190.85" y="1818.84"/>
<use href="#star" x="1193.9" y="1818.5"/>
<use href="#star" x="1196.95" y="1819.19"/>
<use href="#star" x="1200" y="1819.17"/>
<use href="#star" x="1203.05" y="1819.62"/>
<use href="#star" x="1206.1" y="1819.06"/>
<use href="#star" x="1209.15" y="1818.09"/>
<use href="#star" x="1212.2" y="1819.74"/>
<use href="#star" x="1215.25" y="1820.08"/>
<use href="#star" x="1218.3" y="1820.05"/>
<use href="#star" x="1221.35" y="1819.42"/>
<use href="#star" x="1224.4" y="1819.84"/>
<use href="#star" x="1227.45" y="1818.84"/>
<use href="#star" x="1230.5" y="1820.31"/>
<use href="#star" x="1233.55" y="1819.68"/>
<use href="#star" x="1236.6" y="1821.68"/>
<use href="#star" x="1239.65" y="1827.98"/>
<use href="#star" x="1242.7" y="1849"/>
<use href="#star" x="1245.75" y="1859.17"/>
<use href="#star" x="1248.8" y="1864.36"/>
<use href="#star" x="1251.85" y="1869.26"/>
<use href="#star" x="1254.9" y="1873.37"/>
<use href="#star" x="1257.95" y="1874.22"/>
<use href="#star" x="1261" y="1877.18"/>
<use href="#star" x="1264.05" y="1878.7"/>
<use href="#star" x="1267.1" y="1877.93"/>
<use href="#star" x="1270.15" y="1880.7"/>
<use href="#star" x="1273.2" y="1880.6"/>
<use href="#star" x="1276.25" y="1880.79"/>
<use href="#star" x="1279.3" y="1881.87"/>
<use href="#star" x="1282.35" y="1883.68"/>
<use href="#star" x="1285.4" y="1884.67"/>
<use href="#star" x="1288.45" y="1883.61"/>
<use href="#star" x="1291.5" y="1885.59"/>
<use href="#star" x="1294.55" y="1885.02"/>
<use href="#star" x="1297.6" y="1887.19"/>
<use href="#star" x="1300.65" y="1887.02"/>
<use href="#star" x="1303.7" y="1888.92"/>
<use href="#star" x="1306.75" y="1889.83"/>
<use href="#star" x="1309.8" y="1889.47"/>
<use href="#star" x="1312.85" y="1891.06"/>
<use href="#star" x="1315.9" y="1890.04"/>
<use href="#star" x="1318.95" y="1890.02"/>
<use href="#star" x="1322" y="1891.67"/>
<use href="#star" x="1325.05" y="1890.91"/>
<use href="#star" x="1328.1" y="1891.78"/>
<use href="#star" x="1331.15" y="1892.73"/>
<use href="#star" x="1334.2" y="1893.68"/>
<use href="#star" x="1337.25" y="1893.17"/>
<use href="#star" x="1340.3" y="1893.42"/>
<use href="#star" x="1343.35" y="1895.73"/>
<use href="#star" x="1346.4" y="1895.01"/>
<use href="#star" x="1349.45" y="1896.92"/>
<use href="#star" x="1352.5" y="1897.02"/>
<use href="#star" x="1355.55" y="1896.06"/>
<use href="#star" x="1358.6" y="1896.43"/>
<use href="#star" x="1361.65" y="1896.74"/>
<use href="#star" x="1364.7" y="1897.2"/>
<use href="#star" x="1367.75" y="1897.28"/>
<use href="#star" x="1370.8" y="1897.38"/>
<use href="#star" x="1373.85" y="1897.7"/>
<use href="#star" x="1376.9" y="1898.58"/>
<use href="#star" x="1379.95" y="1897.81"/>
<use href="#star" x="1383" y="1897.83"/>
<use href="#star" x="1386.05" y="1898.65"/>
<use href="#star" x="1389.1" y="1897.77"/>
<use href="#star" x="1392.15" y="1898.09"/>
<use href="#star" x="1395.2" y="1899.76"/>
<use href="#star" x="1398.25" y="1898.94"/>
<use href="#star" x="1401.3" y="1899.15"/>
<use href="#star" x="1404.35" y="1898.07"/>
<use href="#star" x="1407.4" y="1899.06"/>
<use href="#star" x="1410.45" y="1899.52"/>
<use href="#star" x="1413.5" y="1898.39"/>
<polyline points="916.5,1874.45 919.55,1874.56 922.6,1874.67 925.65,1874.78 928.7,1874.89 931.75,1875 934.8,1875.1 937.85,1875.21 940.9,1875.32 943.95,1875.43 947,1875.54 950.05,1875.65 953.1,1875.75 956.15,1875.86 959.2,1875.97 962.25,1876.15 965.3,1876.35 968.35,1876.54 971.4,1876.74 974.45,1876.94 977.5,1877.14 980.55,1877.34 983.6,1877.54 986.65,1877.74 989.7,1877.94 992.75,1878.13 995.8,1878.33 998.85,1878.53 1001.9,1878.73 1004.95,1878.93 1008,1879.13 1011.05,1878.1 1014.1,1876.08 1017.15,1870.72 1020.2,1859.07 1023.25,1844.8 1026.3,1830.22 1029.35,1818.18 1032.4,1808.44 1035.45,1800.57 1038.5,1794.85 1041.55,1790.27 1044.6,1786.47 1047.65,1783.08 1050.7,1780.48 1053.75,1778.66 1056.8,1777.06 1059.85,1774.65 1062.9,1773.55 1065.95,1769.87 1069,1769.38 1072.05,1769.24 1075.1,1768.04 1078.15,1768.14 1081.2,1765.75 1084.25,1766.11 1087.3,1765.07 1090.35,1765.29 1093.4,1764.89 1096.45,1763.84 1099.5,1764.63 1102.55,1765.08 1105.6,1766.91 1108.65,1766.85 1111.7,1765.7 1114.75,1767.53 1117.8,1766.25 1120.85,1767.7 1123.9,1766.82 1126.95,1766.82 1130,1769.21 1133.05,1767.93 1136.1,1768.24 1139.15,1770.39 1142.2,1770.42 1145.25,1769.33 1148.3,1771.24 1151.35,1770.53 1154.4,1771.17 1157.45,1770.35 1160.5,1772.43 1163.55,1772.14 1166.6,1773.11 1169.65,1773.25 1172.7,1772.14 1175.75,1772.6 1178.8,1772.44 1181.85,1772.67 1184.9,1772.59 1187.95,1773.27 1191,1774.11 1194.05,1772.79 1197.1,1774.52 1200.15,1773.82 1203.2,1773.86 1206.25,1775.2 1209.3,1774.5 1212.35,1774.21 1215.4,1774.7 1218.45,1775.32 1221.5,1773.86 1224.55,1776.16 1227.6,1773.96 1230.65,1775.81 1233.7,1813 1236.75,1824.81 1239.8,1831.56 1242.85,1834.59 1245.9,1836.96 1248.95,1837.11 1252,1839.69 1255.05,1838.68 1258.1,1839.25 1261.15,1839.66 1264.2,1841.53 1267.25,1843.63 1270.3,1847.17 1273.35,1846.11 1276.4,1848.21 1279.45,1849.39 1282.5,1849.98 1285.55,1849.05 1288.6,1849.58 1291.65,1850.5 1294.7,1851.61 1297.75,1850.79 1300.8,1853.14 1303.85,1854.07 1306.9,1855.04 1309.95,1853.87 1313,1856.52 1316.05,1854.93 1319.1,1855.98 1322.15,1857.09 1325.2,1858.28 1328.25,1857.35 1331.3,1859.21 1334.35,1858.76 1337.4,1858.66 1340.45,1859.13 1343.5,1859.25 1346.55,1859.47 1349.6,1860.1 1352.65,1861.76 1355.7,1862.84 1358.75,1861.19 1361.8,1861.26 1364.85,1863.86 1367.9,1863.12 1370.95,1863.16 1374,1863.11 1377.05,1864.31 1380.1,1865.21 1383.15,1864.67 1386.2,1864.94 1389.25,1864.41 1392.3,1866.82 1395.35,1865.05 1398.4,1866.5 1401.45,1867.68 1404.5,1866.32 1407.55,1868.11 1410.6,1868.98 1413.65,1868.56" fill="none" stroke="#ff0000" stroke-width="1.6" stroke-linejoin="round"/>
<use href="#dia" x="916.5" y="1874.45"/>
<use href="#dia" x="919.55" y="1874.56"/>
<use href="#dia" x="922.6" y="1874.67"/>
<use href="#dia" x="925.65" y="1874.78"/>
<use href="#dia" x="928.7" y="1874.89"/>
<use href="#dia" x="931.75" y="1875"/>
<use href="#dia" x="934.8" y="1875.1"/>
<use href="#dia" x="937.85" y="1875.21"/>
<use href="#dia" x="940.9" y="1875.32"/>
<use href="#dia" x="943.95" y="1875.43"/>
<use href="#dia" x="947" y="1875.54"/>
<use href="#dia" x="950.05" y="1875.65"/>
<use href="#dia" x="953.1" y="1875.75"/>
<use href="#dia" x="956.15" y="1875.86"/>
<use href="#dia" x="959.2" y="1875.97"/>
<use href="#dia" x="962.25" y="1876.15"/>
<use href="#dia" x="965.3" y="1876.35"/>
<use href="#dia" x="968.35" y="1876.54"/>
<use href="#dia" x="971.4" y="1876.74"/>
<use href="#dia" x="974.45" y="1876.94"/>
<use href="#dia" x="977.5" y="1877.14"/>
<use href="#dia" x="980.55" y="1877.34"/>
<use href="#dia" x="983.6" y="1877.54"/>
<use href="#dia" x="986.65" y="1877.74"/>
<use href="#dia" x="989.7" y="1877.94"/>
<use href="#dia" x="992.75" y="1878.13"/>
<use href="#dia" x="995.8" y="1878.33"/>
<use href="#dia" x="998.85" y="1878.53"/>
<use href="#dia" x="1001.9" y="1878.73"/>
<use href="#dia" x="1004.95" y="1878.93"/>
<use href="#dia" x="1008" y="1879.13"/>
<use href="#dia" x="1011.05" y="1878.1"/>
<use href="#dia" x="1014.1" y="1876.08"/>
<use href="#dia" x="1017.15" y="1870.72"/>
<use href="#dia" x="1020.2" y="1859.07"/>
<use href="#dia" x="1023.25" y="1844.8"/>
<use href="#dia" x="1026.3" y="1830.22"/>
<use href="#dia" x="1029.35" y="1818.18"/>
<use href="#dia" x="1032.4" y="1808.44"/>
<use href="#dia" x="1035.45" y="1800.57"/>
<use href="#dia" x="1038.5" y="1794.85"/>
<use href="#dia" x="1041.55" y="1790.27"/>
<use href="#dia" x="1044.6" y="1786.47"/>
<use href="#dia" x="1047.65" y="1783.08"/>
<use href="#dia" x="1050.7" y="1780.48"/>
<use href="#dia" x="1053.75" y="1778.66"/>
<use href="#dia" x="1056.8" y="1777.06"/>
<use href="#dia" x="1059.85" y="1774.65"/>
<use href="#dia" x="1062.9" y="1773.55"/>
<use href="#dia" x="1065.95" y="1769.87"/>
<use href="#dia" x="1069" y="1769.38"/>
<use href="#dia" x="1072.05" y="1769.24"/>
<use href="#dia" x="1075.1" y="1768.04"/>
<use href="#dia" x="1078.15" y="1768.14"/>
<use href="#dia" x="1081.2" y="1765.75"/>
<use href="#dia" x="1084.25" y="1766.11"/>
<use href="#dia" x="1087.3" y="1765.07"/>
<use href="#dia" x="1090.35" y="1765.29"/>
<use href="#dia" x="1093.4" y="1764.89"/>
<use href="#dia" x="1096.45" y="1763.84"/>
<use href="#dia" x="1099.5" y="1764.63"/>
<use href="#dia" x="1102.55" y="1765.08"/>
<use href="#dia" x="1105.6" y="1766.91"/>
<use href="#dia" x="1108.65" y="1766.85"/>
<use href="#dia" x="1111.7" y="1765.7"/>
<use href="#dia" x="1114.75" y="1767.53"/>
<use href="#dia" x="1117.8" y="1766.25"/>
<use href="#dia" x="1120.85" y="1767.7"/>
<use href="#dia" x="1123.9" y="1766.82"/>
<use href="#dia" x="1126.95" y="1766.82"/>
<use href="#dia" x="1130" y="1769.21"/>
<use href="#dia" x="1133.05" y="1767.93"/>
<use href="#dia" x="1136.1" y="1768.24"/>
<use href="#dia" x="1139.15" y="1770.39"/>
<use href="#dia" x="1142.2" y="1770.42"/>
<use href="#dia" x="1145.25" y="1769.33"/>
<use href="#dia" x="1148.3" y="1771.24"/>
<use href="#dia" x="1151.35" y="1770.53"/>
<use href="#dia" x="1154.4" y="1771.17"/>
<use href="#dia" x="1157.45" y="1770.35"/>
<use href="#dia" x="1160.5" y="1772.43"/>
<use href="#dia" x="1163.55" y="1772.14"/>
<use href="#dia" x="1166.6" y="1773.11"/>
<use href="#dia" x="1169.65" y="1773.25"/>
<use href="#dia" x="1172.7" y="1772.14"/>
<use href="#dia" x="1175.75" y="1772.6"/>
<use href="#dia" x="1178.8" y="1772.44"/>
<use href="#dia" x="1181.85" y="1772.67"/>
<use href="#dia" x="1184.9" y="1772.59"/>
<use href="#dia" x="1187.95" y="1773.27"/>
<use href="#dia" x="1191" y="1774.11"/>
<use href="#dia" x="1194.05" y="1772.79"/>
<use href="#dia" x="1197.1" y="1774.52"/>
<use href="#dia" x="1200.15" y="1773.82"/>
<use href="#dia" x="1203.2" y="1773.86"/>
<use href="#dia" x="1206.25" y="1775.2"/>
<use href="#dia" x="1209.3" y="1774.5"/>
<use href="#dia" x="1212.35" y="1774.21"/>
<use href="#dia" x="1215.4" y="1774.7"/>
<use href="#dia" x="1218.45" y="1775.32"/>
<use href="#dia" x="1221.5" y="1773.86"/>
<use href="#dia" x="1224.55" y="1776.16"/>
<use href="#dia" x="1227.6" y="1773.96"/>
<use href="#dia" x="1230.65" y="1775.81"/>
<use href="#dia" x="1233.7" y="1813"/>
<use href="#dia" x="1236.75" y="1824.81"/>
<use href="#dia" x="1239.8" y="1831.56"/>
<use href="#dia" x="1242.85" y="1834.59"/>
<use href="#dia" x="1245.9" y="1836.96"/>
<use href="#dia" x="1248.95" y="1837.11"/>
<use href="#dia" x="1252" y="1839.69"/>
<use href="#dia" x="1255.05" y="1838.68"/>
<use href="#dia" x="1258.1" y="1839.25"/>
<use href="#dia" x="1261.15" y="1839.66"/>
<use href="#dia" x="1264.2" y="1841.53"/>
<use href="#dia" x="1267.25" y="1843.63"/>
<use href="#dia" x="1270.3" y="1847.17"/>
<use href="#dia" x="1273.35" y="1846.11"/>
<use href="#dia" x="1276.4" y="1848.21"/>
<use href="#dia" x="1279.45" y="1849.39"/>
<use href="#dia" x="1282.5" y="1849.98"/>
<use href="#dia" x="1285.55" y="1849.05"/>
<use href="#dia" x="1288.6" y="1849.58"/>
<use href="#dia" x="1291.65" y="1850.5"/>
<use href="#dia" x="1294.7" y="1851.61"/>
<use href="#dia" x="1297.75" y="1850.79"/>
<use href="#dia" x="1300.8" y="1853.14"/>
<use href="#dia" x="1303.85" y="1854.07"/>
<use href="#dia" x="1306.9" y="1855.04"/>
<use href="#dia" x="1309.95" y="1853.87"/>
<use href="#dia" x="1313" y="1856.52"/>
<use href="#dia" x="1316.05" y="1854.93"/>
<use href="#dia" x="1319.1" y="1855.98"/>
<use href="#dia" x="1322.15" y="1857.09"/>
<use href="#dia" x="1325.2" y="1858.28"/>
<use href="#dia" x="1328.25" y="1857.35"/>
<use href="#dia" x="1331.3" y="1859.21"/>
<use href="#dia" x="1334.35" y="1858.76"/>
<use href="#dia" x="1337.4" y="1858.66"/>
<use href="#dia" x="1340.45" y="1859.13"/>
<use href="#dia" x="1343.5" y="1859.25"/>
<use href="#dia" x="1346.55" y="1859.47"/>
<use href="#dia" x="1349.6" y="1860.1"/>
<use href="#dia" x="1352.65" y="1861.76"/>
<use href="#dia" x="1355.7" y="1862.84"/>
<use href="#dia" x="1358.75" y="1861.19"/>
<use href="#dia" x="1361.8" y="1861.26"/>
<use href="#dia" x="1364.85" y="1863.86"/>
<use href="#dia" x="1367.9" y="1863.12"/>
<use href="#dia" x="1370.95" y="1863.16"/>
<use href="#dia" x="1374" y="1863.11"/>
<use href="#dia" x="1377.05" y="1864.31"/>
<use href="#dia" x="1380.1" y="1865.21"/>
<use href="#dia" x="1383.15" y="1864.67"/>
<use href="#dia" x="1386.2" y="1864.94"/>
<use href="#dia" x="1389.25" y="1864.41"/>
<use href="#dia" x="1392.3" y="1866.82"/>
<use href="#dia" x="1395.35" y="1865.05"/>
<use href="#dia" x="1398.4" y="1866.5"/>
<use href="#dia" x="1401.45" y="1867.68"/>
<use href="#dia" x="1404.5" y="1866.32"/>
<use href="#dia" x="1407.55" y="1868.11"/>
<use href="#dia" x="1410.6" y="1868.98"/>
<use href="#dia" x="1413.65" y="1868.56"/>
<polyline points="914.95,1854 918,1853.83 921.05,1853.66 924.1,1853.5 927.15,1853.33 930.2,1853.17 933.25,1853 936.3,1852.83 939.35,1852.67 942.4,1852.5 945.45,1852.33 948.5,1852.17 951.55,1852 954.6,1851.83 957.65,1851.67 960.7,1851.5 963.75,1851.33 966.8,1851.17 969.85,1851 972.9,1850.83 975.95,1850.67 979,1850.5 982.05,1850.34 985.1,1850.17 988.15,1850 991.2,1840 994.25,1810 997.3,1760 1000.35,1685.5 1003.4,1604.6 1006.45,1552 1009.5,1536 1012.55,1553.7 1015.6,1568.8 1018.65,1588.8 1021.7,1612.3 1024.75,1631 1027.8,1646.5 1030.85,1662.5 1033.9,1673 1036.95,1682.4 1040,1690.7 1043.05,1695.17 1046.1,1699.65 1049.15,1705.89 1052.2,1708.61 1055.25,1713.33 1058.3,1716.39 1061.35,1718.36 1064.4,1721.37 1067.45,1721.98 1070.5,1724.84 1073.55,1725.68 1076.6,1726.89 1079.65,1728.91 1082.7,1731.12 1085.75,1730.44 1088.8,1731.86 1091.85,1733.73 1094.9,1734.84 1097.95,1734.14 1101,1733.94 1104.05,1735.72 1107.1,1733.57 1110.15,1735.95 1113.2,1734.74 1116.25,1734.52 1119.3,1734.61 1122.35,1735.25 1125.4,1736.73 1128.45,1735.23 1131.5,1736.42 1134.55,1736.62 1137.6,1735.84 1140.65,1736.2 1143.7,1734.85 1146.75,1734.75 1149.8,1735.04 1152.85,1736.18 1155.9,1735.41 1158.95,1735.01 1162,1735.6 1165.05,1735.14 1168.1,1734.63 1171.15,1735.8 1174.2,1735.43 1177.25,1734.14 1180.3,1734.88 1183.35,1734.64 1186.4,1735.43 1189.45,1734.94 1192.5,1733.68 1195.55,1735.36 1198.6,1734 1201.65,1820.5 1204.7,1863 1207.75,1862.61 1210.8,1863.98 1213.85,1865.46 1216.9,1864.49 1219.95,1865.96 1223,1863.8 1226.05,1864.38 1229.1,1861.24 1232.15,1861.55 1235.2,1865.18 1238.25,1864.22 1241.3,1865.67 1244.35,1865.79 1247.4,1866.13 1250.45,1866.19 1253.5,1867.57 1256.55,1868.22 1259.6,1867.38 1262.65,1868.26 1265.7,1867.07 1268.75,1869.12 1271.8,1869.36 1274.85,1870.64 1277.9,1870.57 1280.95,1869.75 1284,1871 1287.05,1872.73 1290.1,1872.04 1293.15,1874.17 1296.2,1874.4 1299.25,1875.26 1302.3,1875.7 1305.35,1878 1308.4,1876.8 1311.45,1877.56 1314.5,1878.39 1317.55,1880.1 1320.6,1878.5 1323.65,1879.92 1326.7,1880.63 1329.75,1881.96 1332.8,1882.25 1335.85,1882.82 1338.9,1881.76 1341.95,1882.57 1345,1882.88 1348.05,1884.71 1351.1,1885.29 1354.15,1883.47 1357.2,1883.81 1360.25,1884.23 1363.3,1884.5 1366.35,1885.43 1369.4,1885.98 1372.45,1885.4 1375.5,1885.01 1378.55,1886.36 1381.6,1886.5 1384.65,1887.29 1387.7,1888.57 1390.75,1888.16 1393.8,1887.98 1396.85,1888.52 1399.9,1888.95 1402.95,1887.62 1406,1890.1 1409.05,1890.08 1412.1,1890.61 1414.7,1890.65" fill="none" stroke="#000" stroke-width="1.3" stroke-linejoin="round"/>
<use href="#tri" x="914.95" y="1854"/>
<use href="#tri" x="918" y="1853.83"/>
<use href="#tri" x="921.05" y="1853.66"/>
<use href="#tri" x="924.1" y="1853.5"/>
<use href="#tri" x="927.15" y="1853.33"/>
<use href="#tri" x="930.2" y="1853.17"/>
<use href="#tri" x="933.25" y="1853"/>
<use href="#tri" x="936.3" y="1852.83"/>
<use href="#tri" x="939.35" y="1852.67"/>
<use href="#tri" x="942.4" y="1852.5"/>
<use href="#tri" x="945.45" y="1852.33"/>
<use href="#tri" x="948.5" y="1852.17"/>
<use href="#tri" x="951.55" y="1852"/>
<use href="#tri" x="954.6" y="1851.83"/>
<use href="#tri" x="957.65" y="1851.67"/>
<use href="#tri" x="960.7" y="1851.5"/>
<use href="#tri" x="963.75" y="1851.33"/>
<use href="#tri" x="966.8" y="1851.17"/>
<use href="#tri" x="969.85" y="1851"/>
<use href="#tri" x="972.9" y="1850.83"/>
<use href="#tri" x="975.95" y="1850.67"/>
<use href="#tri" x="979" y="1850.5"/>
<use href="#tri" x="982.05" y="1850.34"/>
<use href="#tri" x="985.1" y="1850.17"/>
<use href="#tri" x="988.15" y="1850"/>
<use href="#tri" x="991.2" y="1840"/>
<use href="#tri" x="994.25" y="1810"/>
<use href="#tri" x="997.3" y="1760"/>
<use href="#tri" x="1000.35" y="1685.5"/>
<use href="#tri" x="1003.4" y="1604.6"/>
<use href="#tri" x="1006.45" y="1552"/>
<use href="#tri" x="1009.5" y="1536"/>
<use href="#tri" x="1012.55" y="1553.7"/>
<use href="#tri" x="1015.6" y="1568.8"/>
<use href="#tri" x="1018.65" y="1588.8"/>
<use href="#tri" x="1021.7" y="1612.3"/>
<use href="#tri" x="1024.75" y="1631"/>
<use href="#tri" x="1027.8" y="1646.5"/>
<use href="#tri" x="1030.85" y="1662.5"/>
<use href="#tri" x="1033.9" y="1673"/>
<use href="#tri" x="1036.95" y="1682.4"/>
<use href="#tri" x="1040" y="1690.7"/>
<use href="#tri" x="1043.05" y="1695.17"/>
<use href="#tri" x="1046.1" y="1699.65"/>
<use href="#tri" x="1049.15" y="1705.89"/>
<use href="#tri" x="1052.2" y="1708.61"/>
<use href="#tri" x="1055.25" y="1713.33"/>
<use href="#tri" x="1058.3" y="1716.39"/>
<use href="#tri" x="1061.35" y="1718.36"/>
<use href="#tri" x="1064.4" y="1721.37"/>
<use href="#tri" x="1067.45" y="1721.98"/>
<use href="#tri" x="1070.5" y="1724.84"/>
<use href="#tri" x="1073.55" y="1725.68"/>
<use href="#tri" x="1076.6" y="1726.89"/>
<use href="#tri" x="1079.65" y="1728.91"/>
<use href="#tri" x="1082.7" y="1731.12"/>
<use href="#tri" x="1085.75" y="1730.44"/>
<use href="#tri" x="1088.8" y="1731.86"/>
<use href="#tri" x="1091.85" y="1733.73"/>
<use href="#tri" x="1094.9" y="1734.84"/>
<use href="#tri" x="1097.95" y="1734.14"/>
<use href="#tri" x="1101" y="1733.94"/>
<use href="#tri" x="1104.05" y="1735.72"/>
<use href="#tri" x="1107.1" y="1733.57"/>
<use href="#tri" x="1110.15" y="1735.95"/>
<use href="#tri" x="1113.2" y="1734.74"/>
<use href="#tri" x="1116.25" y="1734.52"/>
<use href="#tri" x="1119.3" y="1734.61"/>
<use href="#tri" x="1122.35" y="1735.25"/>
<use href="#tri" x="1125.4" y="1736.73"/>
<use href="#tri" x="1128.45" y="1735.23"/>
<use href="#tri" x="1131.5" y="1736.42"/>
<use href="#tri" x="1134.55" y="1736.62"/>
<use href="#tri" x="1137.6" y="1735.84"/>
<use href="#tri" x="1140.65" y="1736.2"/>
<use href="#tri" x="1143.7" y="1734.85"/>
<use href="#tri" x="1146.75" y="1734.75"/>
<use href="#tri" x="1149.8" y="1735.04"/>
<use href="#tri" x="1152.85" y="1736.18"/>
<use href="#tri" x="1155.9" y="1735.41"/>
<use href="#tri" x="1158.95" y="1735.01"/>
<use href="#tri" x="1162" y="1735.6"/>
<use href="#tri" x="1165.05" y="1735.14"/>
<use href="#tri" x="1168.1" y="1734.63"/>
<use href="#tri" x="1171.15" y="1735.8"/>
<use href="#tri" x="1174.2" y="1735.43"/>
<use href="#tri" x="1177.25" y="1734.14"/>
<use href="#tri" x="1180.3" y="1734.88"/>
<use href="#tri" x="1183.35" y="1734.64"/>
<use href="#tri" x="1186.4" y="1735.43"/>
<use href="#tri" x="1189.45" y="1734.94"/>
<use href="#tri" x="1192.5" y="1733.68"/>
<use href="#tri" x="1195.55" y="1735.36"/>
<use href="#tri" x="1198.6" y="1734"/>
<use href="#tri" x="1201.65" y="1820.5"/>
<use href="#tri" x="1204.7" y="1863"/>
<use href="#tri" x="1207.75" y="1862.61"/>
<use href="#tri" x="1210.8" y="1863.98"/>
<use href="#tri" x="1213.85" y="1865.46"/>
<use href="#tri" x="1216.9" y="1864.49"/>
<use href="#tri" x="1219.95" y="1865.96"/>
<use href="#tri" x="1223" y="1863.8"/>
<use href="#tri" x="1226.05" y="1864.38"/>
<use href="#tri" x="1229.1" y="1861.24"/>
<use href="#tri" x="1232.15" y="1861.55"/>
<use href="#tri" x="1235.2" y="1865.18"/>
<use href="#tri" x="1238.25" y="1864.22"/>
<use href="#tri" x="1241.3" y="1865.67"/>
<use href="#tri" x="1244.35" y="1865.79"/>
<use href="#tri" x="1247.4" y="1866.13"/>
<use href="#tri" x="1250.45" y="1866.19"/>
<use href="#tri" x="1253.5" y="1867.57"/>
<use href="#tri" x="1256.55" y="1868.22"/>
<use href="#tri" x="1259.6" y="1867.38"/>
<use href="#tri" x="1262.65" y="1868.26"/>
<use href="#tri" x="1265.7" y="1867.07"/>
<use href="#tri" x="1268.75" y="1869.12"/>
<use href="#tri" x="1271.8" y="1869.36"/>
<use href="#tri" x="1274.85" y="1870.64"/>
<use href="#tri" x="1277.9" y="1870.57"/>
<use href="#tri" x="1280.95" y="1869.75"/>
<use href="#tri" x="1284" y="1871"/>
<use href="#tri" x="1287.05" y="1872.73"/>
<use href="#tri" x="1290.1" y="1872.04"/>
<use href="#tri" x="1293.15" y="1874.17"/>
<use href="#tri" x="1296.2" y="1874.4"/>
<use href="#tri" x="1299.25" y="1875.26"/>
<use href="#tri" x="1302.3" y="1875.7"/>
<use href="#tri" x="1305.35" y="1878"/>
<use href="#tri" x="1308.4" y="1876.8"/>
<use href="#tri" x="1311.45" y="1877.56"/>
<use href="#tri" x="1314.5" y="1878.39"/>
<use href="#tri" x="1317.55" y="1880.1"/>
<use href="#tri" x="1320.6" y="1878.5"/>
<use href="#tri" x="1323.65" y="1879.92"/>
<use href="#tri" x="1326.7" y="1880.63"/>
<use href="#tri" x="1329.75" y="1881.96"/>
<use href="#tri" x="1332.8" y="1882.25"/>
<use href="#tri" x="1335.85" y="1882.82"/>
<use href="#tri" x="1338.9" y="1881.76"/>
<use href="#tri" x="1341.95" y="1882.57"/>
<use href="#tri" x="1345" y="1882.88"/>
<use href="#tri" x="1348.05" y="1884.71"/>
<use href="#tri" x="1351.1" y="1885.29"/>
<use href="#tri" x="1354.15" y="1883.47"/>
<use href="#tri" x="1357.2" y="1883.81"/>
<use href="#tri" x="1360.25" y="1884.23"/>
<use href="#tri" x="1363.3" y="1884.5"/>
<use href="#tri" x="1366.35" y="1885.43"/>
<use href="#tri" x="1369.4" y="1885.98"/>
<use href="#tri" x="1372.45" y="1885.4"/>
<use href="#tri" x="1375.5" y="1885.01"/>
<use href="#tri" x="1378.55" y="1886.36"/>
<use href="#tri" x="1381.6" y="1886.5"/>
<use href="#tri" x="1384.65" y="1887.29"/>
<use href="#tri" x="1387.7" y="1888.57"/>
<use href="#tri" x="1390.75" y="1888.16"/>
<use href="#tri" x="1393.8" y="1887.98"/>
<use href="#tri" x="1396.85" y="1888.52"/>
<use href="#tri" x="1399.9" y="1888.95"/>
<use href="#tri" x="1402.95" y="1887.62"/>
<use href="#tri" x="1406" y="1890.1"/>
<use href="#tri" x="1409.05" y="1890.08"/>
<use href="#tri" x="1412.1" y="1890.61"/>
<use href="#tri" x="1414.7" y="1890.65"/>
<line x1="1257.5" y1="1590" x2="1284" y2="1590" stroke="#333" stroke-width="2"/>
<use href="#tri" x="1270.9" y="1590.8"/>
<text x="1297.2" y="1601.3" font-size="30.2">non-CF</text>
<line x1="1257.5" y1="1623.6" x2="1284" y2="1623.6" stroke="#ff0000" stroke-width="2"/>
<use href="#ldia" x="1270.9" y="1623.6"/>
<text x="1297.2" y="1633.4" font-size="30.2">S315+RNP</text>
<line x1="1257.5" y1="1657.5" x2="1284" y2="1657.5" stroke="#1a6fd0" stroke-width="2"/>
<use href="#lstar" x="1270.9" y="1657.5"/>
<text x="1297.2" y="1667.9" font-size="30.2">S10+RNP</text>
<line x1="1257.5" y1="1686.5" x2="1284" y2="1686.5" stroke="#c8c8c8" stroke-width="2"/>
<text x="1297.2" y="1696.8" font-size="30.2">Mock</text>
<line x1="1257.5" y1="1717" x2="1284" y2="1717" stroke="#555" stroke-width="2"/>
<text x="1297.2" y="1727" font-size="30.2">RNP</text>
<circle cx="1270.9" cy="1686.5" r="5.2" fill="#c8c8c8"/>
<rect x="1266.2" y="1712.3" width="9.4" height="9.4" fill="#a0a0a4"/>
</svg></body></html>
